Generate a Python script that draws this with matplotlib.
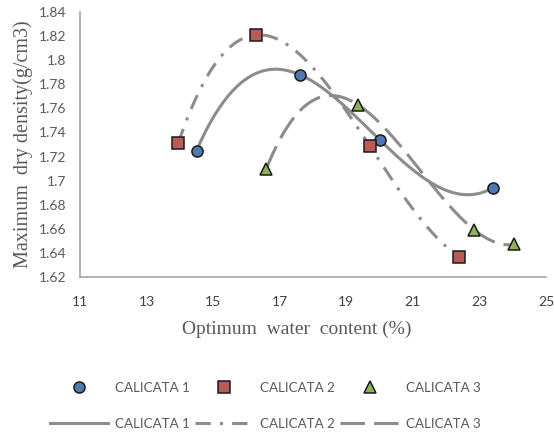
import numpy as np
import matplotlib.pyplot as plt
from matplotlib.lines import Line2D

# Compaction test results (Proctor) for three test pits
labels = ['CALICATA 1', 'CALICATA 2', 'CALICATA 3']
water_c1 = [14.5, 17.6, 20.0, 23.4]
dens_c1 = [1.725, 1.788, 1.734, 1.694]
water_c2 = [13.95, 16.3, 19.7, 22.4]
dens_c2 = [1.731, 1.821, 1.729, 1.637]
water_c3 = [16.6, 19.35, 22.85, 24.05]
dens_c3 = [1.710, 1.763, 1.659, 1.647]

xticks = [11, 13, 15, 17, 19, 21, 23, 25]
yticks = [1.62, 1.64, 1.66, 1.68, 1.70, 1.72, 1.74, 1.76, 1.78, 1.80, 1.82, 1.84]

marker_styles = [('o', '#4f79b0'), ('s', '#b95a57'), ('^', '#8fb15a')]
line_styles = ['-', (0, (5, 3, 1, 3)), (0, (8, 3))]
gray = '#8c8c8c'

fig = plt.figure(figsize=(5.54, 4.34), dpi=100)
ax = fig.add_axes([80 / 554, 157 / 434, 466 / 554, 265 / 434])

series = [(water_c1, dens_c1), (water_c2, dens_c2), (water_c3, dens_c3)]
handles = []
for (x, y), (m, c), ls, lab in zip(series, marker_styles, line_styles, labels):
    # cubic trend through the four points
    coef = np.polyfit(x, y, 3)
    xs = np.linspace(min(x), max(x), 200)
    ax.plot(xs, np.polyval(coef, xs), color=gray, lw=2.2, ls=ls, zorder=2)
    ax.plot(x, y, ls='none', marker=m, ms=8, mfc=c, mec='#1a1a1a', mew=1.1, zorder=3)
    hm = Line2D([], [], ls='none', marker=m, ms=8, mfc=c, mec='#1a1a1a', mew=1.1, label=lab)
    hl = Line2D([], [], color=gray, lw=2.2, ls=ls, label=lab)
    handles += [hm, hl]

ax.set_xlim(11, 25)
ax.set_ylim(1.62, 1.84)
ax.set_xticks(xticks)
ax.set_yticks(yticks)
ax.set_xticklabels([str(t) for t in xticks], fontsize=10, color='#404040', family='Lato')
ax.set_yticklabels(['{:g}'.format(t) for t in yticks], fontsize=10, color='#595959', family='Lato')
ax.tick_params(length=0)
ax.tick_params(axis='x', pad=14)
ax.tick_params(axis='y', pad=10)
for s in ['top', 'right']:
    ax.spines[s].set_visible(False)
for s in ['left', 'bottom']:
    ax.spines[s].set_color('#a6a6a6')
    ax.spines[s].set_linewidth(1.2)

ax.set_xlabel('Optimum  water  content (%)', family='Liberation Serif', fontsize=14,
              color='#595959')
ax.xaxis.set_label_coords((297 - 80) / 466, -0.165)
ax.set_ylabel('Maximum  dry density(g/cm3)', family='Liberation Serif', fontsize=14.5,
              color='#595959', labelpad=4)

fig.legend(handles=handles, ncol=3, loc='center', bbox_to_anchor=(265 / 554, 28 / 434),
           frameon=False, prop={'family': 'Lato', 'size': 9.6}, labelcolor='#595959',
           handlelength=4.4, handletextpad=0.5, columnspacing=0.4, labelspacing=1.8)

fig.savefig('out.png', dpi=100)
